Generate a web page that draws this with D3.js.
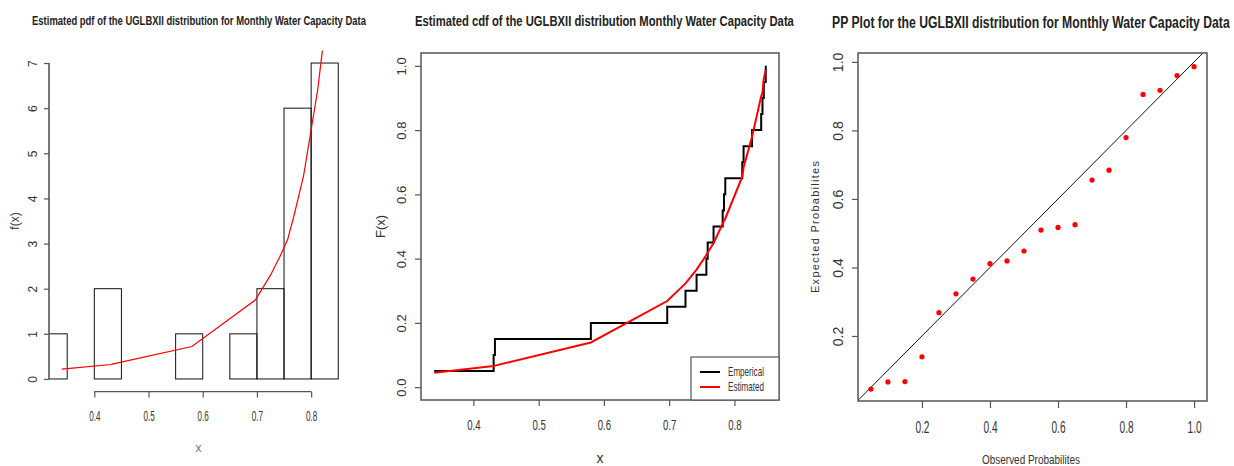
<!DOCTYPE html>
<html><head><meta charset="utf-8">
<script src="https://cdn.jsdelivr.net/npm/d3@7"></script>
<style>
body{margin:0;background:#fff;}
svg text{font-family:"Liberation Sans",Arial,Helvetica,sans-serif;}
</style></head><body>
<svg id="c" width="1234" height="466"></svg>
<script>
// ---------- data ----------
const sampleX      = [0.340,0.431,0.433,0.580,0.697,0.725,0.742,0.757,0.759,0.768,0.782,0.784,0.786,0.812,0.814,0.827,0.841,0.843,0.845,0.848];
const pdfEstimated = [0.22,0.32,0.33,0.72,1.75,2.30,2.70,3.10,3.20,3.60,4.30,4.40,4.50,6.40,6.60,7.90,9.20,9.40,9.60,9.90];
const cdfEstimated = [0.045,0.066,0.067,0.139,0.268,0.323,0.366,0.411,0.419,0.448,0.509,0.517,0.525,0.655,0.684,0.779,0.905,0.917,0.960,0.986];
const ecdfValues   = [0.05,0.10,0.15,0.20,0.25,0.30,0.35,0.40,0.45,0.50,0.55,0.60,0.65,0.70,0.75,0.80,0.85,0.90,0.95,1.00];
const observedP    = [0.05,0.10,0.15,0.20,0.25,0.30,0.35,0.40,0.45,0.50,0.55,0.60,0.65,0.70,0.75,0.80,0.85,0.90,0.95,1.00];
const histBreaks   = [0.30,0.35,0.40,0.45,0.50,0.55,0.60,0.65,0.70,0.75,0.80,0.85];
const histDensity  = [1,0,2,0,0,1,0,1,2,6,7];
const pdfXTicks = [0.4,0.5,0.6,0.7,0.8];
const pdfYTicks = [0,1,2,3,4,5,6,7];
const cdfXTicks = [0.4,0.5,0.6,0.7,0.8];
const cdfYTicks = [0.0,0.2,0.4,0.6,0.8,1.0];
const ppXTicks  = [0.2,0.4,0.6,0.8,1.0];
const ppYTicks  = [0.2,0.4,0.6,0.8,1.0];
const titles = [
  "Estimated pdf of the UGLBXII distribution for Monthly Water Capacity Data",
  "Estimated cdf of the UGLBXII distribution Monthly Water Capacity Data",
  "PP Plot for the UGLBXII distribution for Monthly Water Capacity Data"
];
const legendLabels = ["Emperical","Estimated"];

// ---------- helpers ----------
const svg = d3.select("#c");
const AX = "#555";
// horizontally squeeze a text (reference fonts are condensed) with a real transform
function squeeze(sel, f, rotate){
  sel.each(function(){
    const t = d3.select(this);
    const x = +t.attr("x") || 0, y = +t.attr("y") || 0;
    t.attr("x", 0).attr("y", 0)
     .attr("transform", `translate(${x},${y}) scale(${f},1)`);
  });
}
function squeezeTo(sel, width){
  sel.each(function(){
    const L = this.getComputedTextLength();
    squeeze(d3.select(this), width / L);
  });
}
function styleAxis(g, fs){
  g.select(".domain").remove();
  g.selectAll(".tick line").attr("stroke", AX).attr("stroke-width", 1.2);
  g.selectAll(".tick text").attr("fill", "#333").style("font-size", fs+"px");
}
function xAxis(scale, ticks, y, ts, labY, fs, f){
  const a = svg.append("g").attr("transform", `translate(0,${y})`)
    .call(d3.axisBottom(scale).tickValues(ticks).tickSize(ts).tickFormat(d3.format(".1f")));
  styleAxis(a, fs);
  a.selectAll(".tick text").attr("y", labY).attr("dy", 0);
  squeeze(a.selectAll(".tick text"), f);
  return a;
}
function yAxis(scale, ticks, x, ts, off, fs, fmt){
  const a = svg.append("g").attr("transform", `translate(${x},0)`)
    .call(d3.axisLeft(scale).tickValues(ticks).tickSize(ts).tickFormat(fmt));
  styleAxis(a, fs);
  a.selectAll(".tick text").attr("x", 0).attr("y", 0).attr("dy", "0.36em")
    .attr("text-anchor", "middle")
    .attr("transform", `translate(${off},0) rotate(-90)`);
  return a;
}
function title(txt, x, y, fs, len, anchor){
  const t = svg.append("text").attr("x", x).attr("y", y).attr("text-anchor", anchor)
    .style("font-size", fs+"px").style("font-weight", "bold").attr("fill", "#222").text(txt);
  squeezeTo(t, len);
}

// ---------- Panel 1: pdf histogram ----------
const x1 = d3.scaleLinear().domain([0.3164, 0.868]).range([49, 348]);
const y1 = d3.scaleLinear().domain([-0.28, 7.28]).range([391.6, 50.4]);
svg.append("clipPath").attr("id", "clip1").append("rect")
  .attr("x", x1.range()[0]).attr("y", y1.range()[1])
  .attr("width", x1.range()[1]-x1.range()[0]).attr("height", y1.range()[0]-y1.range()[1]);
const p1 = svg.append("g").attr("clip-path", "url(#clip1)");
p1.selectAll("rect.bar").data(histDensity).join("rect").attr("class", "bar")
  .attr("x", (d,i)=>x1(histBreaks[i]))
  .attr("width", (d,i)=>x1(histBreaks[i+1])-x1(histBreaks[i]))
  .attr("y", d=>y1(d)).attr("height", d=>y1(0)-y1(d))
  .attr("fill", "none").attr("stroke", "#111").attr("stroke-width", 1);
p1.append("path").datum(sampleX.map((v,i)=>[v, pdfEstimated[i]]))
  .attr("d", d3.line().x(d=>x1(d[0])).y(d=>y1(d[1])))
  .attr("fill", "none").attr("stroke", "#f00").attr("stroke-width", 1.2);
const ax1 = xAxis(x1, pdfXTicks, y1.range()[0], 6, 29, 14, 0.58);
ax1.append("line").attr("x1", x1(pdfXTicks[0])).attr("x2", x1(pdfXTicks[pdfXTicks.length-1]))
  .attr("stroke", AX).attr("stroke-width", 1.4);
const ay1 = yAxis(y1, pdfYTicks, x1.range()[0], 5, -16, 12, d3.format("d"));
ay1.append("line").attr("y1", y1(0)).attr("y2", y1(7)).attr("stroke", AX).attr("stroke-width", 1.6);
svg.append("text").attr("x", (x1.range()[0]+x1.range()[1])/2).attr("y", 452).attr("text-anchor", "middle")
  .style("font-size", "12px").attr("fill", "#777").text("x");
svg.append("text").attr("transform", `translate(19,${(y1.range()[0]+y1.range()[1])/2}) rotate(-90)`)
  .attr("text-anchor", "middle").style("font-size", "12px").attr("fill", "#333").text("f(x)");
title(titles[0], 199, 25, 13, 334, "middle");

// ---------- Panel 2: cdf ----------
const x2 = d3.scaleLinear().domain([0.3197, 0.8683]).range([421, 779]);
const y2 = d3.scaleLinear().domain([-0.04, 1.04]).range([400, 53]);
svg.append("path").datum(sampleX.map((v,i)=>[v, ecdfValues[i]]))
  .attr("d", d3.line().curve(d3.curveStepAfter).x(d=>x2(d[0])).y(d=>y2(d[1])))
  .attr("fill", "none").attr("stroke", "#000").attr("stroke-width", 2);
svg.append("path").datum(sampleX.map((v,i)=>[v, cdfEstimated[i]]))
  .attr("d", d3.line().x(d=>x2(d[0])).y(d=>y2(d[1])))
  .attr("fill", "none").attr("stroke", "#f00").attr("stroke-width", 2);
svg.append("rect").attr("x", x2.range()[0]).attr("y", y2.range()[1])
  .attr("width", x2.range()[1]-x2.range()[0]).attr("height", y2.range()[0]-y2.range()[1])
  .attr("fill", "none").attr("stroke", AX).attr("stroke-width", 1.5);
xAxis(x2, cdfXTicks, y2.range()[0], 6, 29.5, 15, 0.64);
yAxis(y2, cdfYTicks, x2.range()[0], 6, -19.5, 13, d3.format(".1f"));
svg.append("text").attr("x", (x2.range()[0]+x2.range()[1])/2).attr("y", 463).attr("text-anchor", "middle")
  .style("font-size", "14px").attr("fill", "#333").text("x");
svg.append("text").attr("transform", `translate(385,${(y2.range()[0]+y2.range()[1])/2}) rotate(-90)`)
  .attr("text-anchor", "middle").style("font-size", "13px").attr("fill", "#333").text("F(x)");
title(titles[1], 604.5, 26, 15, 379, "middle");
// legend
const lg = svg.append("g").attr("transform", `translate(${x2.range()[1]-88},${y2.range()[0]-43})`);
lg.append("rect").attr("width", 88).attr("height", 43).attr("fill", "#fff").attr("stroke", AX).attr("stroke-width", 1.2);
const lgColors = ["#000", "#f00"];
legendLabels.forEach((lab, i)=>{
  lg.append("line").attr("x1", 9).attr("x2", 29).attr("y1", 15+i*15).attr("y2", 15+i*15)
    .attr("stroke", lgColors[i]).attr("stroke-width", 2);
  const t = lg.append("text").attr("x", 37).attr("y", 15+i*15).attr("dy", "0.35em")
    .style("font-size", "12px").attr("fill", "#333").text(lab);
  squeezeTo(t, 36);
});

// ---------- Panel 3: PP plot ----------
const x3 = d3.scaleLinear().domain([0.012, 1.038]).range([858, 1207]);
const y3 = d3.scaleLinear().domain([0.0102, 1.026]).range([401, 53]);
svg.append("clipPath").attr("id", "clip3").append("rect")
  .attr("x", x3.range()[0]).attr("y", y3.range()[1])
  .attr("width", x3.range()[1]-x3.range()[0]).attr("height", y3.range()[0]-y3.range()[1]);
const p3 = svg.append("g").attr("clip-path", "url(#clip3)");
p3.append("line").attr("x1", x3(0)).attr("y1", y3(0)).attr("x2", x3(1.1)).attr("y2", y3(1.1))
  .attr("stroke", "#111").attr("stroke-width", 1);
p3.selectAll("circle").data(observedP).join("circle")
  .attr("cx", d=>x3(d)).attr("cy", (d,i)=>y3(cdfEstimated[i])).attr("r", 2.6).attr("fill", "#f00");
svg.append("rect").attr("x", x3.range()[0]).attr("y", y3.range()[1])
  .attr("width", x3.range()[1]-x3.range()[0]).attr("height", y3.range()[0]-y3.range()[1])
  .attr("fill", "none").attr("stroke", AX).attr("stroke-width", 1.5);
xAxis(x3, ppXTicks, y3.range()[0], 7, 32, 16, 0.63);
yAxis(y3, ppYTicks, x3.range()[0], 6, -20, 14, d3.format(".1f"));
const xl3 = svg.append("text").attr("x", 1031).attr("y", 464).attr("text-anchor", "middle")
  .style("font-size", "13px").attr("fill", "#333").text("Observed Probabilites");
squeezeTo(xl3, 98);
svg.append("text").attr("transform", `translate(819,${(y3.range()[0]+y3.range()[1])/2}) rotate(-90)`)
  .attr("text-anchor", "middle").style("font-size", "11px").attr("fill", "#333")
  .attr("textLength", 132).text("Expected Probabilites");
title(titles[2], 832, 28, 16, 398, "start");
</script>
</body></html>
